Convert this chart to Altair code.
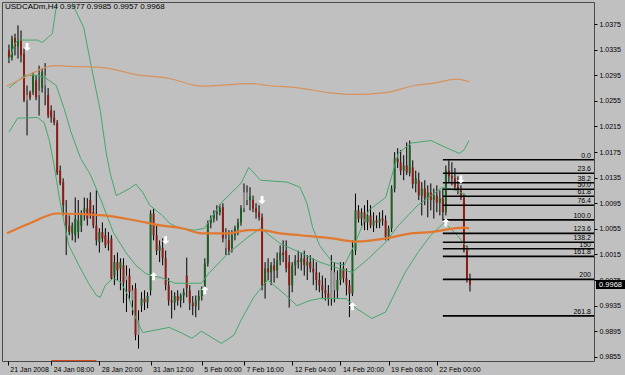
import altair as alt
import pandas as pd

# ---------------- data (prices in pips: value / 10000) ----------------
symbol = "USDCADm"
timeframe = "H4"

opens = [10334,10323,10353,10340,10350,10329,10256,10268,10268,10287,10264,10275,10279,10264,10240,10229,10221,10146,10128,10076,
         10060,10048,10045,10050,10060,10081,10087,10100,10081,10060,10034,10050,10045,10037,10040,9982,10003,9993,9998,9975,
         9982,9959,9962,9889,9935,9946,9940,9959,10079,10045,10021,10025,10009,9967,9943,9940,9950,9943,9951,9982,
         9959,9939,9934,9943,9950,9962,10001,10064,10071,10078,10081,10089,10040,10037,10025,10045,10056,10065,10087,10112,
         10100,10100,10087,10081,10073,9967,9993,9987,9998,9990,10006,10018,10021,10003,9967,9998,10006,10003,10009,9998,
         10003,9993,9987,9975,9967,9959,9954,9946,9987,9959,9975,9993,9978,9967,9954,10021,10084,10071,10081,10065,
         10076,10060,10068,10065,10071,10068,10043,10056,10118,10165,10159,10146,10154,10142,10151,10125,10131,10107,10118,10103,
         10112,10100,10107,10096,10103,10081,10146,10137,10134,10121,10115,10104,10021,9977]
highs = [10343,10357,10360,10373,10365,10337,10279,10271,10300,10295,10310,10306,10314,10275,10248,10240,10225,10154,10134,10100,
         10076,10065,10104,10100,10084,10104,10103,10112,10092,10115,10056,10065,10056,10050,10045,10014,10018,10009,10009,9998,
         9993,9967,9970,9928,9956,9959,9956,10084,10087,10060,10037,10040,10021,9978,9959,9956,9959,9954,9962,10010,
         9967,9950,9951,9959,9965,10009,10068,10076,10084,10092,10093,10095,10056,10053,10053,10060,10071,10092,10126,10123,
         10120,10107,10095,10092,10079,10003,10009,10003,10009,10018,10029,10037,10037,10014,10003,10014,10021,10018,10021,10014,
         10014,10009,10003,9987,9982,9978,9967,10014,10003,9990,10003,10003,9993,9975,10037,10110,10092,10087,10092,10100,
         10092,10081,10076,10081,10084,10076,10060,10123,10175,10181,10178,10170,10190,10193,10162,10146,10143,10128,10131,10123,
         10126,10118,10123,10115,10118,10154,10162,10159,10150,10137,10123,10110,10029,9985]
lows = [10314,10318,10326,10321,10315,10253,10201,10256,10264,10256,10232,10268,10248,10228,10221,10217,10139,10123,10076,10014,
        10045,10037,10034,10040,10050,10068,10060,10071,10056,10029,10018,10034,10025,10021,9975,9967,9975,9959,9939,9925,
        9943,9920,9881,9868,9925,9928,9931,9951,10037,10014,10003,9998,9959,9935,9915,9928,9935,9932,9939,9948,
        9928,9920,9917,9928,9943,9956,9996,10056,10065,10068,10076,10034,10014,10014,10018,10037,10045,10060,10081,10092,
        10084,10081,10071,10068,9959,9946,9975,9967,9971,9978,9998,10003,9987,9932,9956,9982,9993,9990,9982,9975,
        9987,9967,9959,9956,9946,9943,9935,9935,9940,9946,9967,9971,9951,9917,9950,10014,10065,10060,10053,10053,
        10056,10050,10056,10056,10060,10037,10037,10050,10112,10150,10139,10131,10139,10137,10118,10112,10100,10076,10092,10073,
        10084,10071,10081,10076,10068,10076,10128,10123,10115,10109,10100,10018,9971,9957]
closes = [10323,10353,10340,10350,10326,10256,10264,10260,10295,10260,10271,10300,10295,10232,10229,10221,10143,10126,10092,10060,
          10050,10060,10071,10068,10079,10087,10071,10076,10060,10037,10050,10040,10029,10032,9978,10003,9990,10003,9971,9982,
          9956,9943,9889,9912,9946,9940,9950,10079,10045,10021,10029,10009,9967,9943,9940,9950,9943,9951,9956,9962,
          9939,9934,9943,9950,9962,10001,10064,10071,10078,10081,10087,10040,10025,10021,10045,10056,10065,10087,10112,10100,
          10106,10087,10081,10073,9967,9993,9987,9998,9990,10006,10018,10014,9993,9967,9998,10006,10003,10009,9998,10003,
          9993,9987,9975,9967,9959,9954,9946,9990,9959,9975,9993,9978,9967,9954,10021,10084,10071,10081,10065,10076,
          10060,10068,10065,10071,10068,10043,10056,10118,10165,10159,10146,10154,10143,10185,10125,10134,10107,10118,10103,10112,
          10100,10107,10096,10103,10081,10146,10137,10134,10121,10115,10104,10021,9976,9968]
gray_bars = [6, 10, 12, 39, 41, 43, 72, 78, 79, 107, 108]

# Bollinger bands (bar index, pips)
bb_up_idx = [0,2,3,9.5,11,14.4,16,17.6,19,20.5,24.8,27.4,30.3,32.3,33.6,35.6,40.1,42.1,44.4,46.7,50.9,53.2,56.4,61.7,64.9,
             70.5,77,79.6,83.5,92.3,96.6,98.9,100.8,103.1,107.3,111.3,114.5,119.4,125,129.2,133.4,140,145.5,149.4,151,152.7]
bb_up_val = [10318,10345,10350,10350,10346,10360,10412,10475,10506,10412,10370,10307,10240,10173,10142,10107,10118,10125,10112,
             10092,10076,10064,10056,10053,10056,10096,10126,10151,10131,10128,10120,10095,10057,10029,10003,9998,10029,10084,
             10104,10173,10189,10193,10181,10173,10178,10193]
bb_mid_idx = [0,5.2,9.5,12.4,15.7,18.3,20.6,23.8,27.1,30.3,34.6,38.8,42.1,45.4,50.9,55.1,63.9,66.2,72.8,79.3,83.5,90,96.6,
              103.1,109.6,113.9,119.4,125,129.2,135.7,143.9,148.8,152.7]
bb_mid_val = [10275,10295,10295,10290,10279,10243,10206,10165,10139,10103,10050,10018,9998,9985,9978,9970,9970,9985,10017,
              10042,10056,10032,10018,10003,9993,9987,10009,10034,10060,10092,10120,10115,10104]
bb_low_idx = [0,2.9,9.5,11.7,13.4,15,16.6,18.3,19.9,23.2,26.4,29,30.3,32,34.6,37.2,39.5,42.1,44.4,53.2,57.4,60.7,63.9,70.5,
              74.7,77,81.2,85.8,90,95.6,99.8,103.1,111.9,115.2,120.4,125,131.5,135.7,140,144.5,148.8,152.7]
bb_low_val = [10206,10228,10229,10221,10193,10154,10107,10065,10029,9998,9970,9951,9948,9967,9978,9971,9951,9915,9893,9901,
              9892,9884,9895,9876,9889,9912,9948,9975,9959,9935,9943,9946,9946,9931,9915,9925,9987,10018,10045,10065,10045,10021]

# moving averages
ma_slow_idx = [-0.65,7.5,16,31.3,42.1,50.9,57.4,63.9,72.8,79.3,83.5,90,96.6,107.3,115.2,125,133.4,140,151,152.7]
ma_slow_val = [10048,10065,10079,10076,10068,10060,10056,10048,10048,10053,10053,10048,10045,10040,10035,10040,10048,10050,
               10057,10056]
ma_top_idx = [-0.65,5.2,15,20.6,31.3,42.1,53.2,63.9,80.3,85.8,96.6,107.3,113.9,125,134.7,140,148.8,152.7]
ma_top_val = [10278,10292,10310,10309,10307,10296,10290,10278,10282,10279,10275,10267,10265,10268,10279,10282,10289,10285]
ma_low_idx = [14, 29]
ma_low_val = [9849, 9849]

# Fibonacci
fib_labels = ["0.0", "23.6", "38.2", "50.0", "61.8", "76.4", "100.0", "123.6", "138.2", "150", "161.8", "200", "261.8"]
fib_vals = [10163, 10142, 10127, 10117, 10106, 10092, 10069, 10048, 10034, 10024, 10012, 9976, 9919]
fib_start = 144

# fractal arrows
arrow_dn_idx = [6, 52, 84, 150]
arrow_dn_val = [10339, 10037, 10100, 10132]
arrow_up_idx = [48, 65, 114, 145]
arrow_up_val = [9981, 9959, 9934, 10065]

# axes
x_tick_pos = [-0.4, 14, 30, 47, 64, 78, 94, 110, 126, 142]
x_tick_labels = ["21 Jan 2008", "24 Jan 08:00", "28 Jan 20:00", "31 Jan 12:00", "5 Feb 00:00",
                 "7 Feb 16:00", "12 Feb 04:00", "14 Feb 20:00", "19 Feb 08:00", "22 Feb 00:00"]
y_ticks = [1.0375, 1.0335, 1.0295, 1.0255, 1.0215, 1.0175, 1.0135, 1.0095, 1.0055, 1.0015,
           0.9975, 0.9935, 0.9895, 0.9855]

# ---------------- chart ----------------
FONT = "Liberation Sans"
W, H = 592, 359
P = 10000.0

xs = alt.Scale(domain=[-0.65, 192.5], nice=False, zero=False)
ys = alt.Scale(domain=[0.98485, 1.04095], nice=False, zero=False)

label_expr = ("[" + ",".join("'%s'" % s for s in x_tick_labels) + "][indexof(["
              + ",".join(str(v) for v in x_tick_pos) + "], datum.value)]")
xaxis = alt.Axis(values=x_tick_pos, labelExpr=label_expr, labelAlign="left", labelBaseline="top",
                 labelOffset=2, labelPadding=0, tickSize=4, tickColor="#000000", domain=False, grid=False,
                 labelFont=FONT, labelFontSize=7, labelColor="#000000", labelOverlap=False,
                 labelFlush=False, labelBound=False, title=None)
yaxis = alt.Axis(orient="right", values=y_ticks, format=".4f", tickSize=3, tickColor="#000000",
                 labelPadding=2, domain=False, grid=False, labelFont=FONT, labelFontSize=7,
                 labelColor="#000000", labelOverlap=False, labelFlush=False, labelBound=False, title=None)


def X(f):
    return alt.X(f, type="quantitative", scale=xs, axis=xaxis)


def Y(f):
    return alt.Y(f, type="quantitative", scale=ys, axis=yaxis)


n = len(closes)
cdf = pd.DataFrame({
    "i": list(range(n)),
    "o": [v / P for v in opens],
    "h": [v / P for v in highs],
    "l": [v / P for v in lows],
    "c": [v / P for v in closes],
})
cdf["kind"] = ["gray" if k in gray_bars else ("up" if closes[k] >= opens[k] else "down") for k in range(n)]

wicks = alt.Chart(cdf).mark_rule(color="#000000", strokeWidth=1).encode(x=X("i"), y=Y("l"), y2="h")
bodies = alt.Chart(cdf).mark_bar(size=2).encode(
    x=X("i"), y=Y("o"), y2="c",
    color=alt.Color("kind:N", scale=alt.Scale(domain=["up", "down", "gray"],
                                              range=["#1F5E24", "#8A1E16", "#8E8E8E"]), legend=None))


def line_layer(idx, vals, color, width, interp="linear"):
    d = pd.DataFrame({"i": idx, "p": [v / P for v in vals]})
    return alt.Chart(d).mark_line(color=color, strokeWidth=width, clip=True, interpolate=interp).encode(
        x=X("i"), y=Y("p"))


bb_up = line_layer(bb_up_idx, bb_up_val, "#45A86A", 1)
bb_mid = line_layer(bb_mid_idx, bb_mid_val, "#45A86A", 1)
bb_low = line_layer(bb_low_idx, bb_low_val, "#45A86A", 1)
ma_slow = line_layer(ma_slow_idx, ma_slow_val, "#E2772E", 2.2, "monotone")
ma_top = line_layer(ma_top_idx, ma_top_val, "#D8925C", 1.2, "monotone")
ma_low = line_layer(ma_low_idx, ma_low_val, "#D04A22", 1.5)

fdf = pd.DataFrame({"label": fib_labels, "p": [v / P for v in fib_vals], "s": [fib_start] * len(fib_vals)})
fib_lines = alt.Chart(fdf).mark_rule(color="#000000", strokeWidth=1.6).encode(
    x=X("s"), x2=alt.value(W), y=Y("p"))
fib_text = alt.Chart(fdf).mark_text(align="right", baseline="bottom", dy=-1, font=FONT, fontSize=7,
                                    color="#000000").encode(x=alt.value(W - 3), y=Y("p"), text="label:N")

DOWN = "M-0.35,-1 L0.35,-1 L0.35,0.1 L0.95,0.1 L0,1 L-0.95,0.1 L-0.35,0.1 Z"
UP = "M-0.35,1 L0.35,1 L0.35,-0.1 L0.95,-0.1 L0,-1 L-0.95,-0.1 L-0.35,-0.1 Z"
adn = pd.DataFrame({"i": arrow_dn_idx, "p": [v / P for v in arrow_dn_val]})
aup = pd.DataFrame({"i": arrow_up_idx, "p": [v / P for v in arrow_up_val]})
arrows_dn = alt.Chart(adn).mark_point(shape=DOWN, filled=True, color="#FFFFFF", size=64, opacity=1).encode(
    x=X("i"), y=Y("p"))
arrows_up = alt.Chart(aup).mark_point(shape=UP, filled=True, color="#FFFFFF", size=64, opacity=1).encode(
    x=X("i"), y=Y("p"))

last = n - 1
title_txt = "%s,%s  %.4f %.4f %.4f %.4f" % (symbol, timeframe, opens[last] / P, highs[last] / P,
                                              lows[last] / P, closes[last] / P)
title = alt.Chart(pd.DataFrame({"t": [title_txt]})).mark_text(
    align="left", baseline="middle", font=FONT, fontSize=8, color="#000000").encode(
    x=alt.value(3), y=alt.value(5), text="t:N")

pdf = pd.DataFrame({"p": [closes[last] / P], "t": ["%.4f" % (closes[last] / P)]})
price_box = alt.Chart(pdf).mark_point(shape="M-1,-0.31 L1,-0.31 L1,0.31 L-1,0.31 Z", filled=True,
                                      color="#000000", size=841, opacity=1).encode(
    x=alt.value(W + 16.5), y=Y("p"))
price_txt = alt.Chart(pdf).mark_text(align="center", baseline="middle", font=FONT, fontSize=7.5,
                                     color="#FFFFFF").encode(x=alt.value(W + 16.5), y=Y("p"), text="t:N")

chart = alt.layer(
    wicks, bodies, bb_up, bb_mid, bb_low, ma_top, ma_slow, ma_low,
    fib_lines, fib_text, arrows_dn, arrows_up, title, price_box, price_txt
).properties(
    width=W, height=H,
    autosize=alt.AutoSizeParams(type="none"),
    padding={"left": 2, "top": 2, "right": 31, "bottom": 14},
    background="#C0C0C0",
).configure_view(stroke="#4A4A4A", strokeWidth=1, fill="#C0C0C0")

chart.save("out.html", embed_options={"renderer": "svg", "actions": False})
